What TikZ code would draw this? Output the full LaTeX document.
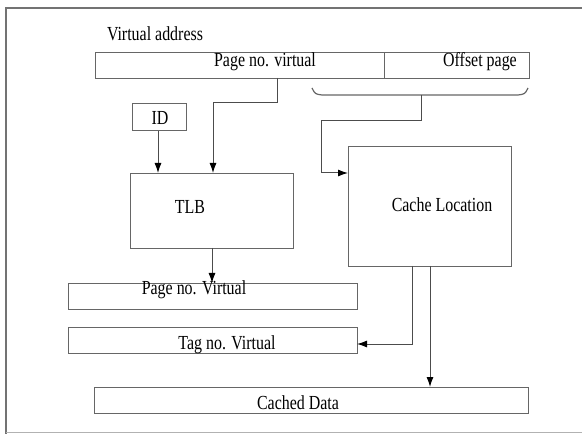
\documentclass[tikz,border=0pt]{standalone}
\usepackage{fontspec}
\setmainfont{Liberation Serif}
\usetikzlibrary{arrows.meta}
\newcommand{\tx}[1]{\scalebox{0.8}[1]{\fontsize{20}{22}\selectfont #1}}
\begin{document}
\begin{tikzpicture}[x=1bp,y=-1bp,
  box/.style={draw=black!60,line width=1.2bp,inner sep=0pt},
  conn/.style={draw=black!70,line width=1bp,-{Latex[length=10bp,width=7bp,black]}},
  lbl/.style={inner sep=0pt}]
\useasboundingbox (0,0) rectangle (582,434);
\draw[black!55,line width=1.2bp] (6,434) -- (6,8) -- (582,8);
\draw[black!30,line width=0.8bp] (6,432) -- (582,432);
% top address bar
\node[box,minimum width=289bp,minimum height=26bp,anchor=north west] (pnv) at (95,52) {};
\node[box,minimum width=145bp,minimum height=26bp,anchor=north west] (off) at (384,52) {};
\node[lbl] (va) at (155,34) {\tx{Virtual address}};
\node[lbl] (pnvt) at (265,62) {\tx{Page no. virtual}};
\node[lbl] (offt) at (480,62) {\tx{Offset page}};
% brace
\draw[black!60,line width=1.2bp] (312,88) .. controls (315,94) .. (322,95) -- (518,95) .. controls (525,94) .. (528,88);
\coordinate (bm) at (421,95);
% ID and TLB
\node[box,minimum width=54bp,minimum height=27bp,anchor=north west] (id) at (132,103) {};
\node[lbl] at (160,118) {\tx{ID}};
\node[box,minimum width=163bp,minimum height=75bp,anchor=north west] (tlb) at (130,173) {};
\node[lbl] at (190,207) {\tx{TLB}};
% Cache location
\node[box,minimum width=163bp,minimum height=120bp,anchor=north west] (cl) at (348,146) {};
\node[lbl] at (442,205) {\tx{Cache Location}};
% lower boxes
\node[box,minimum width=289bp,minimum height=26bp,anchor=north west] (ppv) at (68,283) {};
\node[lbl] at (194,290) {\tx{Page no. Virtual}};
\node[box,minimum width=289bp,minimum height=26bp,anchor=north west] (tag) at (68,327) {};
\node[lbl] at (227,345) {\tx{Tag no. Virtual}};
\node[box,minimum width=434bp,minimum height=26bp,anchor=north west] (cd) at (94,387) {};
\node[lbl] at (298,403) {\tx{Cached Data}};
% connectors
\draw[conn] (277,78) -- (277,103) -- (213,103) -- (213,173);
\draw[conn] (id.south -| 158,0) -- (158,173);
\draw[conn] (bm) -- (421,121) -- (321,121) -- (321,173) -- (348,173);
\draw[conn] (212,248) -- (212,283);
\draw[conn] (412,266) -- (412,344) -- (357,344);
\draw[conn] (430,266) -- (430,387);
\end{tikzpicture}
\end{document}
